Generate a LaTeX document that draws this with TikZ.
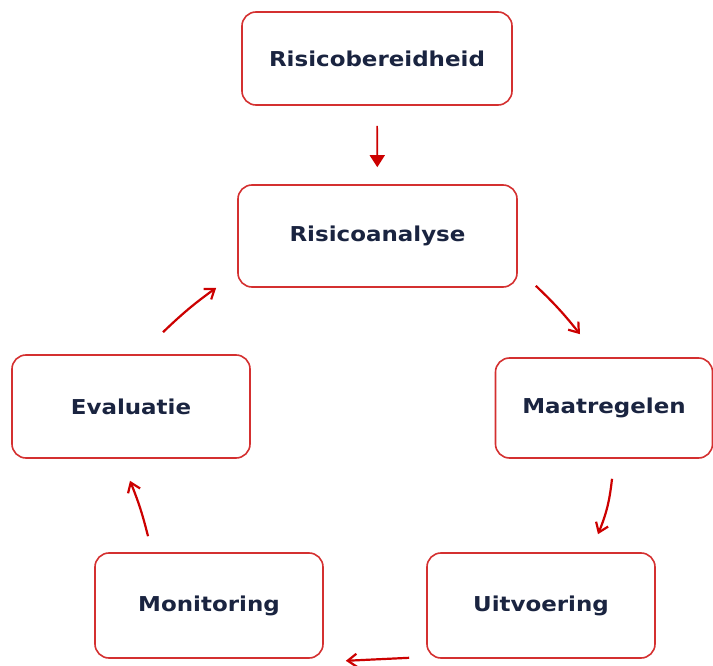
\documentclass[tikz,border=0pt]{standalone}
\usepackage{fontspec}
\setmainfont{DejaVu Sans}[FakeStretch=1.12]
\usetikzlibrary{arrows.meta}

\definecolor{randrood}{HTML}{D43030}
\definecolor{pijlrood}{HTML}{CC0000}
\definecolor{tekstblauw}{HTML}{1A2440}

\tikzset{
  stap/.style={draw=randrood, line width=1.6pt, rounded corners=14pt, fill=white,
    text=tekstblauw, font=\bfseries\fontsize{20.5}{24}\selectfont, inner sep=0pt},
  pijl/.style={pijlrood, line width=2.2pt, -{Straight Barb[length=9pt,width=13pt]}},
  pijlvol/.style={pijlrood, line width=1.6pt, -{Triangle[length=12pt,width=15pt]}},
}

\begin{document}
\begin{tikzpicture}[x=1pt,y=-1pt]
  \useasboundingbox (0,0) rectangle (713,666);

  %Stappen
  \node[stap, minimum width=270pt, minimum height=93pt]  (bereid)  at (377,58.5)  {Risicobereidheid};
  \node[stap, minimum width=279pt, minimum height=102pt] (analyse) at (377.5,236) {Risicoanalyse};
  \node[stap, minimum width=238pt, minimum height=103pt] (evalu)   at (131,406.5) {Evaluatie};
  \node[stap, minimum width=217pt, minimum height=100pt] (maatr)   at (604,408)   {Maatregelen};
  \node[stap, minimum width=228pt, minimum height=105pt] (monit)   at (209,605.5) {Monitoring};
  \node[stap, minimum width=228pt, minimum height=105pt] (uitv)    at (541,605.5) {Uitvoering};

  %Pijlen
  \draw[pijlvol, shorten <=20pt, shorten >=17pt] (bereid) -- (analyse);
  \draw[pijl] ([shift={(18,-2)}]analyse.south east) to[bend left=4] ([shift={(-24,-23)}]maatr.north);
  \draw[pijl] ([shift={(8,20)}]maatr.south) to[bend left=8] ([shift={(57,-18)}]uitv.north);
  \draw[pijl] ([shift={(-17,-1)}]uitv.south west) -- ([shift={(22,2)}]monit.south east);
  \draw[pijl] ([shift={(-61,-16)}]monit.north) to[bend right=4] ([shift={(-1,22)}]evalu.south);
  \draw[pijl] ([shift={(32,-22)}]evalu.north) to[bend left=4] ([shift={(-21,0)}]analyse.south west);

\end{tikzpicture}
\end{document}
